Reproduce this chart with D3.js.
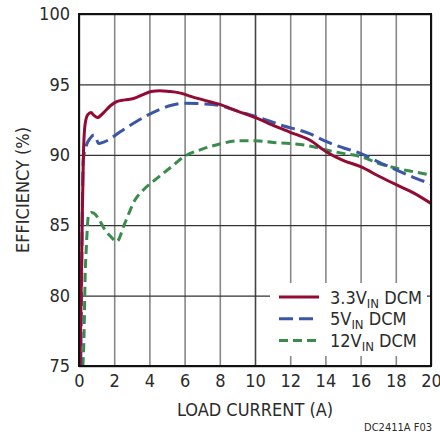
<!DOCTYPE html>
<html>
<head>
<meta charset="utf-8">
<script src="https://cdn.jsdelivr.net/npm/d3@7"></script>
<style>
  body { margin: 0; background: #fff; }
  text { font-family: "Liberation Sans Narrow", "DejaVu Sans Condensed", Arial, sans-serif; fill: #2b2b2b; }
</style>
</head>
<body>
<div id="chart"></div>
<script>
// efficiency curves, [load current (A), efficiency (%)]
var eff33 = [[0.06,75],[0.12,80],[0.18,85],[0.25,90],[0.35,92.2],[0.5,92.85],[0.68,93.0],[0.85,92.8],[1.05,92.65],
  [1.4,93.0],[1.8,93.5],[2.14,93.78],[2.6,93.9],[3.1,94.0],[3.6,94.25],[4.1,94.5],[4.6,94.55],[5.1,94.5],[5.7,94.4],
  [6.4,94.13],[7.2,93.85],[8.0,93.58],[9.0,93.1],[10.1,92.6],[11.0,92.1],[12.0,91.6],[13.1,91.05],[14.07,90.2],
  [15.0,89.6],[16,89.16],[17.1,88.44],[18.05,87.86],[19,87.3],[20,86.55]];
var eff5 = [[0.1,75],[0.14,80],[0.18,85],[0.24,89.6],[0.4,90.6],[0.63,91.17],[0.85,91.4],[1.0,91.1],[1.1,90.8],
  [1.4,90.9],[1.67,91.05],[2.3,91.6],[3.1,92.24],[3.8,92.75],[4.5,93.18],[5.2,93.5],[6.0,93.66],[7,93.62],[8,93.5],
  [9,93.1],[10.1,92.7],[11.5,92.1],[13.1,91.5],[14.07,90.93],[15,90.5],[16,90.1],[17,89.5],[18.05,88.92],[19,88.4],[20,87.93]];
var eff12 = [[0.22,75],[0.3,78],[0.34,80.9],[0.42,83.5],[0.53,85.6],[0.7,85.9],[0.85,85.85],[1.1,85.49],[1.48,84.66],
  [1.8,84.2],[2.14,83.83],[2.6,85.13],[3.18,86.79],[3.75,87.62],[4.5,88.4],[5.2,89.1],[6.0,89.9],[7,90.4],[8,90.77],
  [9.15,91.0],[10,91.0],[11.04,90.88],[12,90.8],[13.1,90.63],[14.07,90.34],[15,90.1],[16,89.87],[17,89.4],[18.05,89.04],
  [19,88.8],[20,88.57]];

var xTicks = [0, 2, 4, 6, 8, 10, 12, 14, 16, 18, 20];
var yTicks = [75, 80, 85, 90, 95, 100];

var series = [
  { name: "3.3V", data: eff33, color: "#930b32", dash: null },
  { name: "5V", data: eff5, color: "#3a56a5", dash: "14,6" },
  { name: "12V", data: eff12, color: "#3a8c4c", dash: "9,5" }
];

var margin = { top: 14, right: 9, bottom: 72, left: 79 },
  width = 440 - margin.left - margin.right,
  height = 438 - margin.top - margin.bottom;

var svg = d3.select("#chart").append("svg")
  .attr("width", 440)
  .attr("height", 438);

var g = svg.append("g")
  .attr("transform", "translate(" + margin.left + "," + margin.top + ")");

var x = d3.scaleLinear().domain([0, 20]).range([0, width]);
var y = d3.scaleLinear().domain([75, 100]).range([height, 0]);

// grid
g.append("g")
  .attr("transform", "translate(0," + height + ")")
  .call(d3.axisBottom(x).tickValues(xTicks).tickSize(-height).tickFormat(""))
  .call(function (a) {
    a.select(".domain").remove();
    a.selectAll("line").attr("stroke", function (d) { return d == 10 ? "#444" : "#888"; }).attr("stroke-width", 1.6);
  });

g.append("g")
  .call(d3.axisLeft(y).tickValues(yTicks).tickSize(-width).tickFormat(""))
  .call(function (a) {
    a.select(".domain").remove();
    a.selectAll("line").attr("stroke", "#333").attr("stroke-width", 1.3);
  });

// tick labels
g.append("g")
  .attr("transform", "translate(0," + height + ")")
  .call(d3.axisBottom(x).tickValues(xTicks).tickSize(0).tickPadding(8))
  .call(function (a) {
    a.select(".domain").remove();
    a.selectAll("text").attr("font-size", 18).attr("fill", "#2b2b2b").style("font-family", null);
  });

g.append("g")
  .call(d3.axisLeft(y).tickValues(yTicks).tickSize(0).tickPadding(9))
  .call(function (a) {
    a.select(".domain").remove();
    a.selectAll("text").attr("font-size", 18).attr("fill", "#2b2b2b").style("font-family", null);
  });

// clip
g.append("clipPath").attr("id", "clip")
  .append("rect").attr("width", width).attr("height", height);

var line = d3.line()
  .x(function (d) { return x(d[0]); })
  .y(function (d) { return y(d[1]); })
  .curve(d3.curveMonotoneX);

var curves = g.append("g").attr("clip-path", "url(#clip)");
series.slice().reverse().forEach(function (s) {
  curves.append("path")
    .datum(s.data)
    .attr("d", line)
    .attr("fill", "none")
    .attr("stroke", s.color)
    .attr("stroke-width", 3)
    .attr("stroke-dasharray", s.dash);
});

// legend
var leg = g.append("g");
leg.append("rect")
  .attr("x", 191).attr("y", 269)
  .attr("width", 157).attr("height", 73)
  .attr("fill", "#fff");

series.forEach(function (s, i) {
  var ly = 283 + i * 21.8;
  leg.append("line")
    .attr("x1", 200).attr("x2", 240)
    .attr("y1", ly).attr("y2", ly)
    .attr("stroke", s.color)
    .attr("stroke-width", 3)
    .attr("stroke-dasharray", s.dash);
  var t = leg.append("text")
    .attr("x", 251).attr("y", ly + 6.5)
    .attr("font-size", 18);
  t.append("tspan").text(s.name);
  t.append("tspan").attr("font-size", 13).attr("dy", 4).text("IN");
  t.append("tspan").attr("dy", -4).text(" DCM");
});

// frame
g.append("rect")
  .attr("width", width).attr("height", height)
  .attr("fill", "none")
  .attr("stroke", "#111")
  .attr("stroke-width", 2);

// axis titles
svg.append("text")
  .attr("x", margin.left + width / 2).attr("y", 416)
  .attr("text-anchor", "middle")
  .attr("font-size", 18)
  .text("LOAD CURRENT (A)");

svg.append("text")
  .attr("transform", "translate(29," + (margin.top + height / 2) + ") rotate(-90)")
  .attr("text-anchor", "middle")
  .attr("font-size", 18)
  .text("EFFICIENCY (%)");

svg.append("text")
  .attr("x", 432).attr("y", 431)
  .attr("text-anchor", "end")
  .attr("font-size", 11)
  .text("DC2411A F03");
</script>
</body>
</html>
